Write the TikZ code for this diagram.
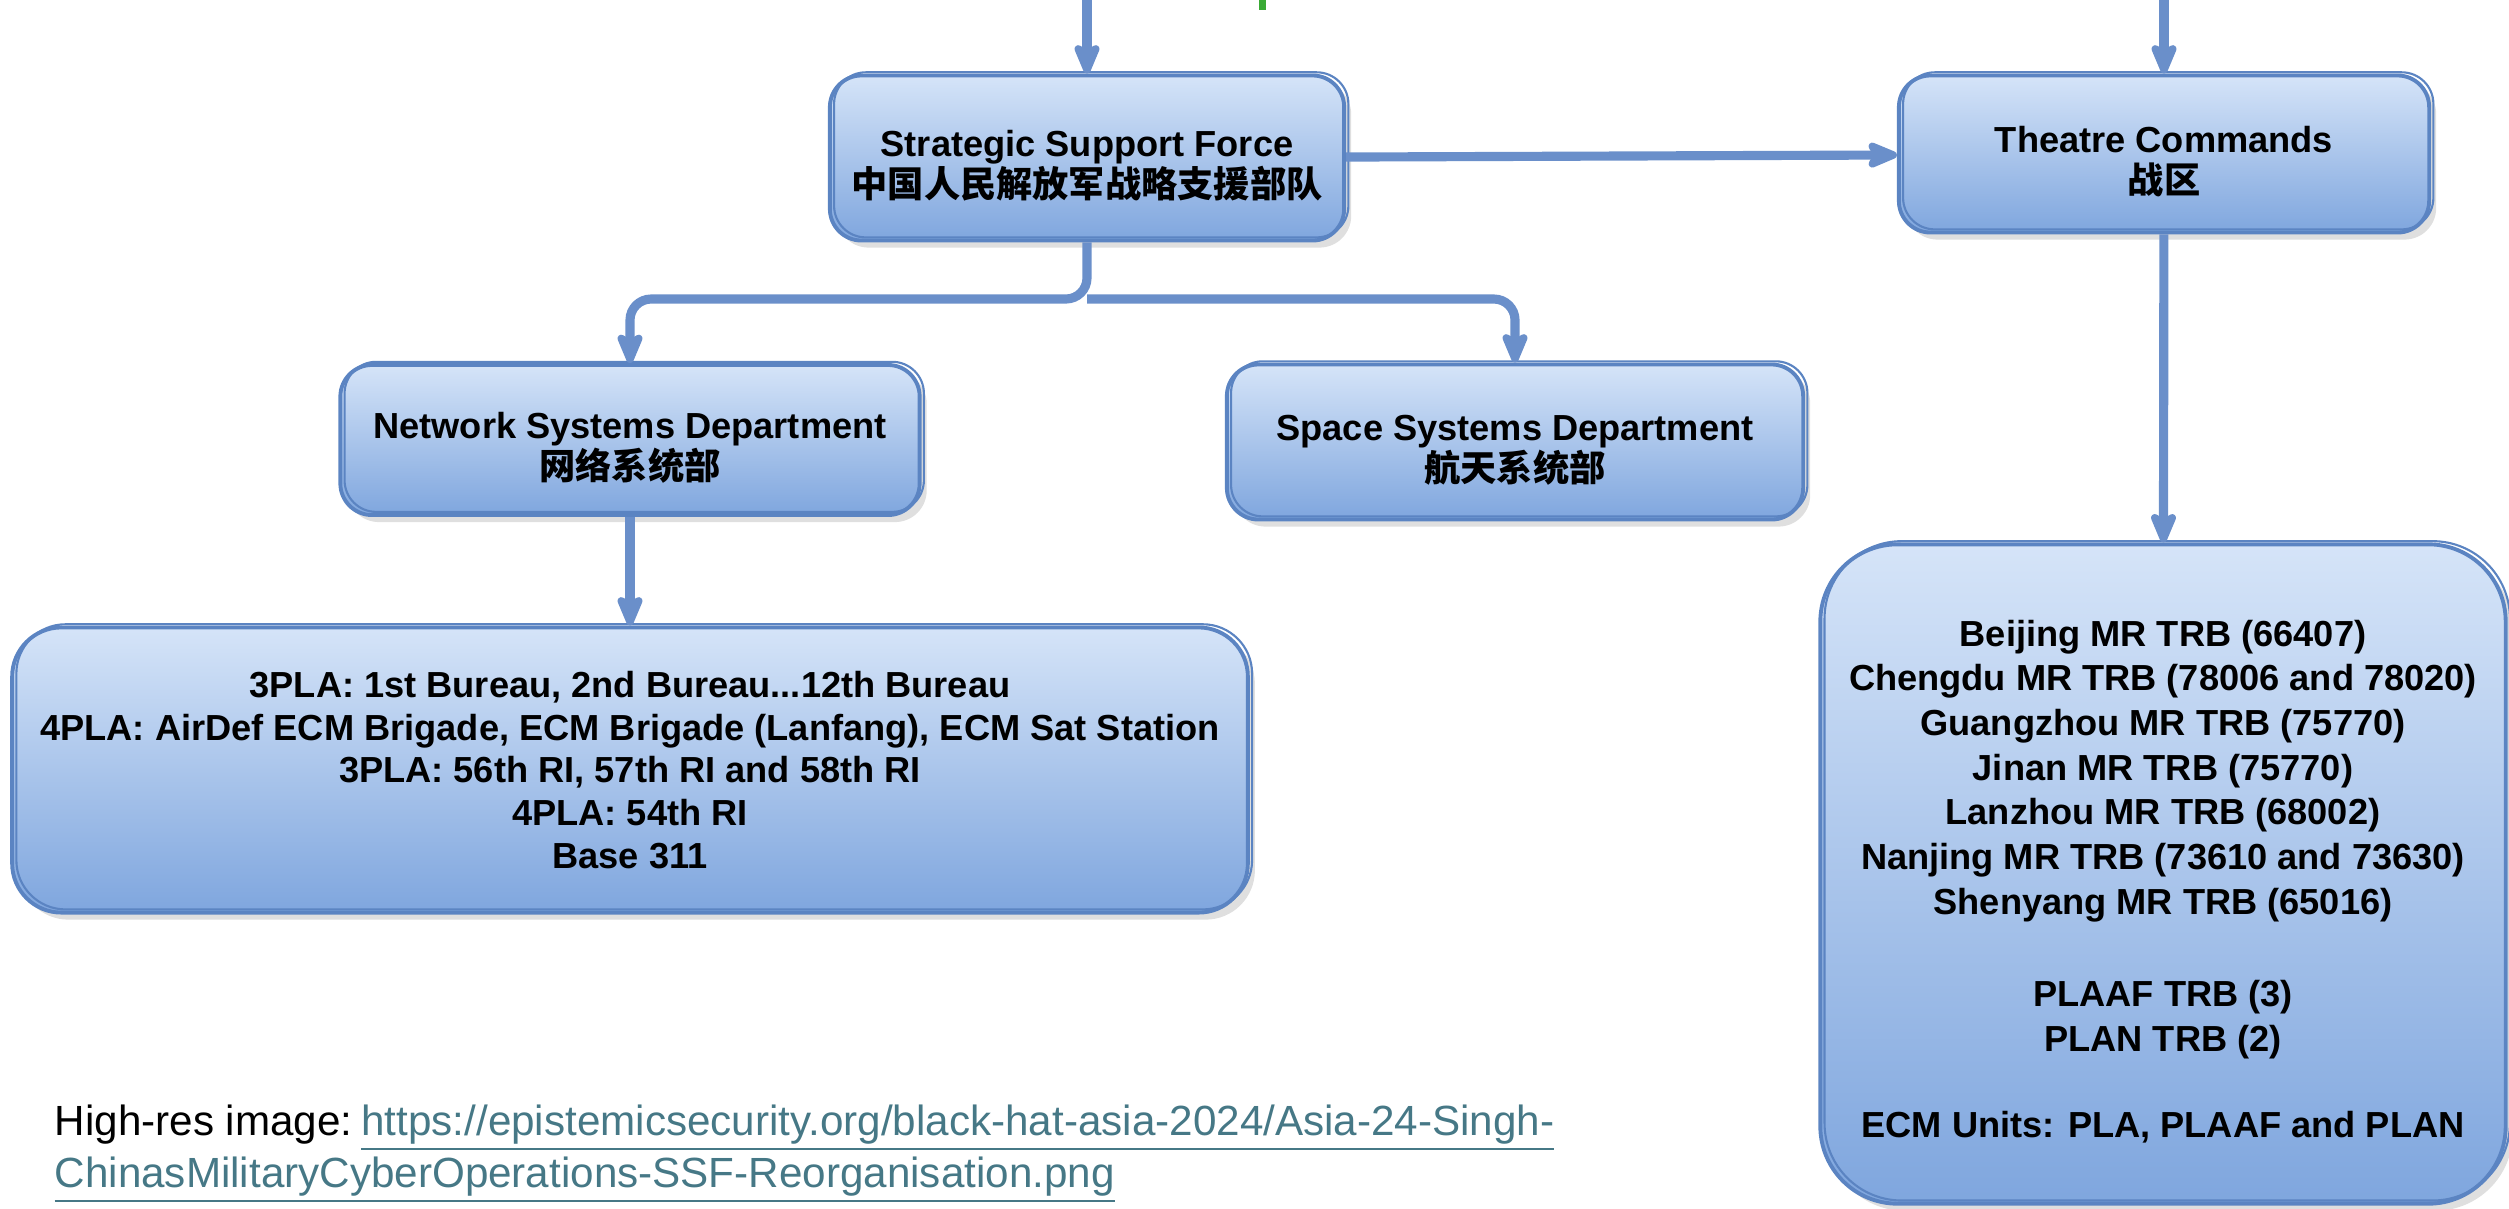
\documentclass[tikz,border=0pt]{standalone}
\usepackage{fontspec}
\setmainfont{Liberation Sans}
\newfontfamily\cjk{Noto Sans CJK SC}
\usetikzlibrary{arrows.meta,positioning,shadows}

\definecolor{edgeblue}{HTML}{5B84C2}
\definecolor{arrowblue}{HTML}{6A8FCA}
\definecolor{boxtop}{HTML}{D5E4F8}
\definecolor{boxbottom}{HTML}{7FA6DE}
\definecolor{linkteal}{HTML}{467886}
\definecolor{notegreen}{HTML}{3AAA35}

% extra room above the first line, pushes the text block down
\newcommand\toproom{\rule{0pt}{11.8pt}}

\begin{document}
\begin{tikzpicture}[x=0.01cm,y=-0.01cm,
  unit/.style={draw=edgeblue,line width=1.1pt,rounded corners=9pt,top color=boxtop,bottom color=boxbottom,
    drop shadow={opacity=0.25,shadow xshift=2pt,shadow yshift=-2pt},
    postaction={draw=edgeblue,line width=0.6pt,transform canvas={xshift=1.2pt,yshift=0.9pt}},
    align=center,font=\fontsize{10.3}{11.6}\selectfont\bfseries,inner sep=4pt},
  link/.style={-{Stealth[length=11pt,width=9pt,inset=2.5pt,round]},line width=2.6pt,draw=arrowblue,rounded corners=6pt}]
\useasboundingbox (0,0) rectangle (2509,1208);
\fill[notegreen] (1259,0) rectangle (1266,10);

\node[unit,minimum width=5.14cm,minimum height=1.65cm] (ssf) at (1087,158) {\toproom Strategic Support Force\\{\cjk 中国人民解放军战略支援部队}};
\node[unit,minimum width=5.30cm,minimum height=1.57cm] (tc) at (2164,154) {\toproom Theatre Commands\\{\cjk 战区}};
\node[unit,minimum width=5.79cm,minimum height=1.50cm] (nsd) at (630,440) {\toproom Network Systems Department\\{\cjk 网络系统部}};
\node[unit,minimum width=5.76cm,minimum height=1.55cm] (spsd) at (1515,442) {\toproom Space Systems Department\\{\cjk 航天系统部}};
\node[unit,minimum width=12.35cm,minimum height=2.85cm,rounded corners=14pt,font=\fontsize{10.3}{12.2}\selectfont\bfseries] (bureau) at (630,770)
  {3PLA: 1st Bureau, 2nd Bureau...12th Bureau\\4PLA: AirDef ECM Brigade, ECM Brigade (Lanfang), ECM Sat Station\\3PLA: 56th RI, 57th RI and 58th RI\\4PLA: 54th RI\\Base 311};
\node[unit,minimum width=6.85cm,minimum height=6.59cm,rounded corners=22pt,font=\fontsize{10.3}{12.7}\selectfont\bfseries] (trb) at (2163,874)
  {\toproom Beijing MR TRB (66407)\\Chengdu MR TRB (78006 and 78020)\\Guangzhou MR TRB (75770)\\Jinan MR TRB (75770)\\Lanzhou MR TRB (68002)\\Nanjing MR TRB (73610 and 73630)\\Shenyang MR TRB (65016)\\[13.6pt]PLAAF TRB (3)\\PLAN TRB (2)\\[11.8pt]ECM Units: PLA, PLAAF and PLAN};

\node[anchor=north west,align=left,inner sep=0pt,font=\fontsize{12}{14.8}\selectfont] (source) at (54,1104)
  {High-res image:\hspace{2.5pt}\textcolor{linkteal}{\underline{https://epistemicsecurity.org/black-hat-asia-2024/Asia-24-Singh-}}\\
   \textcolor{linkteal}{\underline{ChinasMilitaryCyberOperations-SSF-Reorganisation.png}}};

\coordinate (ssfin) at (ssf.north |- 0,0);
\coordinate (tcin) at (tc.north |- 0,0);
\coordinate (fork) at (ssf.south |- 0,299);
\draw[link] (ssfin) -- (ssf.north);
\draw[link] (tcin) -- (tc.north);
\draw[link] (ssf) -- (tc);
\draw[link] (ssf.south) -- (fork) -| (nsd.north);
\draw[link] (fork) -| (spsd.north);
\draw[link] (nsd) -- (bureau);
\draw[link] (tc) -- (trb);
\end{tikzpicture}
\end{document}
